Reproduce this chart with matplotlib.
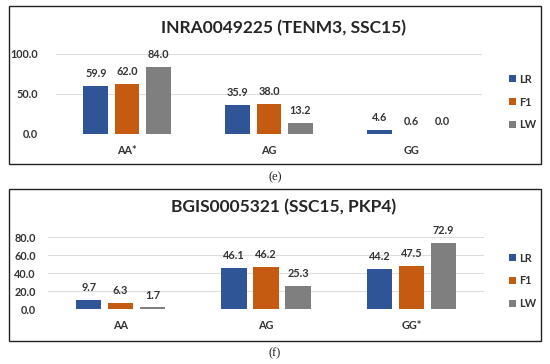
import matplotlib.pyplot as plt
import numpy as np
from matplotlib.patches import Rectangle

# data
series = ['LR', 'F1', 'LW']
colors = ['#2F5597', '#C55A11', '#7F7F7F']

cats_e = ['AA*', 'AG', 'GG']
lr_e = [59.9, 35.9, 4.6]
f1_e = [62.0, 38.0, 0.6]
lw_e = [84.0, 13.2, 0.0]
yticks_e = [0, 50, 100]

cats_f = ['AA', 'AG', 'GG*']
lr_f = [9.7, 46.1, 44.2]
f1_f = [6.3, 46.2, 47.5]
lw_f = [1.7, 25.3, 72.9]
yticks_f = [0, 20, 40, 60, 80]

plt.rcParams['font.family'] = ['Lato', 'DejaVu Sans']
txt = '#333333'

W, H = 550, 364
fig = plt.figure(figsize=(5.5, 3.64), dpi=100)


def px(x0, y0, x1, y1):
    # pixel box (top-left origin) -> figure fraction rect
    return [x0 / W, 1 - y1 / H, (x1 - x0) / W, (y1 - y0) / H]


def panel(box, axbox, title, title_y, cats, vals, yticks, leg_y, caption, cap_y, tickpad):
    fig.patches.append(Rectangle(box[:2], box[2], box[3], transform=fig.transFigure,
                                 fill=False, edgecolor='#222222', linewidth=1.0))
    ax = fig.add_axes(axbox)
    x = np.arange(len(cats))
    step, bw = 0.22, 0.175
    for i, (name, v) in enumerate(zip(series, vals)):
        bars = ax.bar(x + (i - 1) * step, v, bw, color=colors[i], label=name, zorder=3)
        for b, val in zip(bars, v):
            ax.annotate(f'{val:.1f}', (b.get_x() + b.get_width() / 2, b.get_height()),
                        xytext=(0, 5), textcoords='offset points', ha='center', va='bottom',
                        fontsize=7.8, fontweight='bold', color=txt)
    ax.set_xlim(-0.5, len(cats) - 0.5)
    ax.set_ylim(yticks[0], yticks[-1])
    ax.set_yticks(yticks)
    ax.set_yticklabels([f'{t:.1f}' for t in yticks])
    ax.set_xticks(x)
    ax.set_xticklabels(cats)
    ax.tick_params(axis='y', length=0, pad=tickpad, labelsize=7.8, labelcolor=txt)
    ax.tick_params(axis='x', length=0, pad=8, labelsize=7.8, labelcolor=txt)
    for lab in ax.get_xticklabels() + ax.get_yticklabels():
        lab.set_fontweight('bold')
    ax.yaxis.grid(True, color='#DDDDDD', linewidth=0.8, zorder=0)
    for s in ax.spines.values():
        s.set_visible(False)
    ax.set_facecolor('none')
    fig.text(0.515, title_y, title, ha='center', va='center', fontsize=12.5,
             fontweight='bold', color='#262626')
    leg = fig.legend(*ax.get_legend_handles_labels(), loc='center left',
                     bbox_to_anchor=(0.908, leg_y), frameon=False, fontsize=7.8,
                     handlelength=0.6, handleheight=0.6, handletextpad=0.3,
                     labelspacing=1.1)
    for t in leg.get_texts():
        t.set_fontweight('bold')
        t.set_color(txt)
    fig.text(0.5, cap_y, caption, ha='center', va='center', fontsize=9,
             family='Liberation Serif', color='#222222')


panel(px(9, 6, 541, 164), px(56, 54, 482, 134), 'INRA0049225 (TENM3, SSC15)', 1 - 28 / H,
      cats_e, [lr_e, f1_e, lw_e], yticks_e, 1 - 102 / H, '(e)', 1 - 177 / H, 13)
panel(px(9, 189, 541, 341), px(48, 237, 484, 309), 'BGIS0005321 (SSC15, PKP4)', 1 - 207 / H,
      cats_f, [lr_f, f1_f, lw_f], yticks_f, 1 - 281 / H, '(f)', 1 - 353 / H, 9)

fig.savefig('out.png', dpi=100)
